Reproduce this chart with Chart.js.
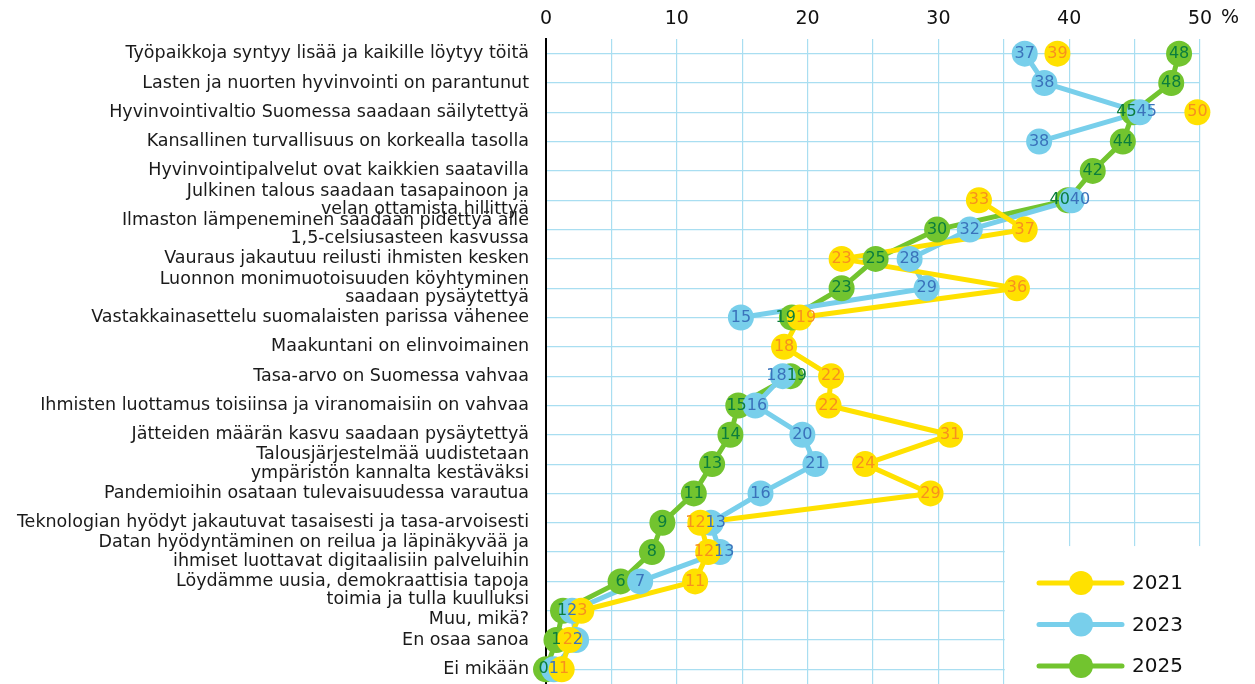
<!DOCTYPE html>
<html lang="fi">
<head>
<meta charset="utf-8">
<title>Tulevaisuuden toiveet 2021–2025</title>
<script src="https://cdn.jsdelivr.net/npm/chart.js@4.4.1/dist/chart.umd.min.js"></script>
<style>
  html, body { margin: 0; padding: 0; background: #fff; }
  #wrap { position: relative; width: 1255px; height: 684px; }
</style>
</head>
<body>
<div id="wrap"><canvas id="chart"></canvas></div>
<script>
// categories, top to bottom (arrays = two-line labels)
const categories = [
  "Työpaikkoja syntyy lisää ja kaikille löytyy töitä",
  "Lasten ja nuorten hyvinvointi on parantunut",
  "Hyvinvointivaltio Suomessa saadaan säilytettyä",
  "Kansallinen turvallisuus on korkealla tasolla",
  "Hyvinvointipalvelut ovat kaikkien saatavilla",
  ["Julkinen talous saadaan tasapainoon ja", "velan ottamista hillittyä"],
  ["Ilmaston lämpeneminen saadaan pidettyä alle", "1,5-celsiusasteen kasvussa"],
  "Vauraus jakautuu reilusti ihmisten kesken",
  ["Luonnon monimuotoisuuden köyhtyminen", "saadaan pysäytettyä"],
  "Vastakkainasettelu suomalaisten parissa vähenee",
  "Maakuntani on elinvoimainen",
  "Tasa-arvo on Suomessa vahvaa",
  "Ihmisten luottamus toisiinsa ja viranomaisiin on vahvaa",
  "Jätteiden määrän kasvu saadaan pysäytettyä",
  ["Talousjärjestelmää uudistetaan", "ympäristön kannalta kestäväksi"],
  "Pandemioihin osataan tulevaisuudessa varautua",
  "Teknologian hyödyt jakautuvat tasaisesti ja tasa-arvoisesti",
  ["Datan hyödyntäminen on reilua ja läpinäkyvää ja", "ihmiset luottavat digitaalisiin palveluihin"],
  ["Löydämme uusia, demokraattisia tapoja", "toimia ja tulla kuulluksi"],
  "Muu, mikä?",
  "En osaa sanoa",
  "Ei mikään"
];

const years = ["2021", "2023", "2025"];

// share of respondents, %
const values2021 = [39.1, null, 49.8, null, null, 33.1, 36.6, 22.6, 36.0, 19.4, 18.2,
  21.8, 21.6, 30.9, 24.4, 29.4, 11.8, 12.4, 11.4, 2.7, 1.8, 1.2];
const values2023 = [36.6, 38.1, 45.4, 37.7, null, 40.2, 32.4, 27.8, 29.1, 14.9, null,
  18.1, 16.0, 19.6, 20.6, 16.4, 12.6, 13.3, 7.2, 2.0, 2.3, 0.6];
const values2025 = [48.4, 47.8, 44.9, 44.1, 41.8, 39.9, 29.9, 25.2, 22.6, 18.8, null,
  18.7, 14.7, 14.1, 12.7, 11.3, 8.9, 8.1, 5.7, 1.3, 0.8, 0.0];

const xTicks = [0, 10, 20, 30, 40, 50];

const FONT = "'DejaVu Sans', sans-serif";
const gridColor = "#a9def1";

// these two labels sit half a line lower in the original so they don't collide
const dropHalfLine = [18, 19];

const series = [
  { label: years[0], values: values2021, fill: "#ffe100", text: "#f7901e" },
  { label: years[1], values: values2023, fill: "#78cfeb", text: "#3a72bb" },
  { label: years[2], values: values2025, fill: "#72c42f", text: "#0b7d3d" }
];

// lines underneath, all circles on top (yellow > blue > green)
const lineSets = series.map((s, k) => ({
  label: s.label,
  data: s.values,
  borderColor: s.fill,
  borderWidth: 5,
  borderJoinStyle: "round",
  borderCapStyle: "round",
  pointRadius: 0,
  spanGaps: false,
  tension: 0,
  clip: false,
  order: 10 + k
}));
const pointSets = series.map((s, k) => ({
  label: s.label,
  data: s.values,
  showLine: false,
  pointRadius: 13,
  pointHoverRadius: 13,
  pointBorderWidth: 0,
  pointBackgroundColor: s.fill,
  backgroundColor: s.fill,
  clip: false,
  order: 1 + k
}));

// number inside each circle, nudged apart where circles overlap
const pointLabels = {
  id: "pointLabels",
  afterDatasetsDraw(chart) {
    const ctx = chart.ctx;
    ctx.save();
    ctx.font = "16px " + FONT;
    ctx.textAlign = "center";
    ctx.textBaseline = "middle";
    categories.forEach((c, i) => {
      const items = [];
      series.forEach((s, k) => {
        const v = s.values[i];
        if (v === null) return;
        const el = chart.getDatasetMeta(3 + k).data[i];
        const text = String(Math.round(v));
        items.push({ x: el.x, lx: el.x, y: el.y, text, w: ctx.measureText(text).width, color: s.text });
      });
      items.sort((a, b) => a.x - b.x);
      for (let pass = 0; pass < 20; pass++) {
        let moved = false;
        for (let j = 0; j < items.length - 1; j++) {
          const a = items[j], b = items[j + 1];
          const need = (a.w + b.w) / 2;
          const gap = b.lx - a.lx;
          if (gap < need - 0.01) {
            const d = (need - gap) / 2;
            a.lx -= d; b.lx += d; moved = true;
          }
        }
        if (!moved) break;
      }
      items.forEach(it => {
        ctx.fillStyle = it.color;
        ctx.fillText(it.text, it.lx, it.y);
      });
    });
    ctx.restore();
  }
};

// white box in the lower right corner with the legend, plus "%" after the last tick
const legendBox = {
  id: "legendBox",
  beforeDatasetsDraw(chart) {
    const { ctx, scales: { x, y } } = chart;
    const left = x.getPixelForValue(35) + 1;
    const top = y.getPixelForValue(17) - 6;
    ctx.save();
    ctx.fillStyle = "#fff";
    ctx.fillRect(left, top, chart.width - left, chart.height - top);
    ctx.restore();
  },
  afterDraw(chart) {
    const { ctx, scales: { x } } = chart;
    ctx.save();
    ctx.fillStyle = "#111";
    ctx.font = "19px " + FONT;
    ctx.textAlign = "left";
    ctx.textBaseline = "middle";
    ctx.fillText("%", x.getPixelForValue(50) + 21, 18);

    series.forEach((s, k) => {
      const ly = 583 + k * 41.5;
      ctx.strokeStyle = s.fill;
      ctx.lineWidth = 5;
      ctx.lineCap = "round";
      ctx.beginPath();
      ctx.moveTo(1039, ly);
      ctx.lineTo(1122, ly);
      ctx.stroke();
      ctx.fillStyle = s.fill;
      ctx.beginPath();
      ctx.arc(1081, ly, 12, 0, Math.PI * 2);
      ctx.fill();
      ctx.fillStyle = "#111";
      ctx.font = "20px " + FONT;
      ctx.fillText(s.label, 1132, ly + 1);
    });
    ctx.restore();
  }
};

new Chart(document.getElementById("chart"), {
  type: "line",
  data: {
    labels: categories,
    datasets: [...lineSets, ...pointSets]
  },
  options: {
    indexAxis: "y",
    responsive: true,
    maintainAspectRatio: false,
    animation: false,
    events: [],
    layout: { autoPadding: false, padding: { left: 0, right: 55, top: 0, bottom: 0 } },
    plugins: {
      legend: { display: false },
      tooltip: { enabled: false }
    },
    scales: {
      x: {
        position: "top",
        min: 0,
        max: 50,
        grid: { color: gridColor, lineWidth: 1.2, drawTicks: false },
        border: { display: false },
        ticks: {
          stepSize: 5,
          autoSkip: false,
          maxRotation: 0,
          padding: 9,
          color: "#111",
          font: { size: 19, family: FONT },
          callback: v => (xTicks.includes(v) ? String(v) : "")
        },
        afterFit(scale) { scale.height = 39; }
      },
      y: {
        type: "category",
        offset: true,
        grid: { color: gridColor, lineWidth: 1.2, drawTicks: false, offset: false },
        border: { color: "#000", width: 2 },
        ticks: {
          autoSkip: false,
          padding: 17,
          color: "#1a1a1a",
          font: { size: 17.5, family: FONT, lineHeight: 1.05 },
          callback: (v, i) => (dropHalfLine.includes(i) ? [""].concat(categories[i]) : categories[i])
        },
        afterFit(scale) {
          scale.width = 546;
          scale.paddingTop = 0;
          scale.paddingBottom = 0;
        }
      }
    }
  },
  plugins: [legendBox, pointLabels]
});
</script>
</body>
</html>
